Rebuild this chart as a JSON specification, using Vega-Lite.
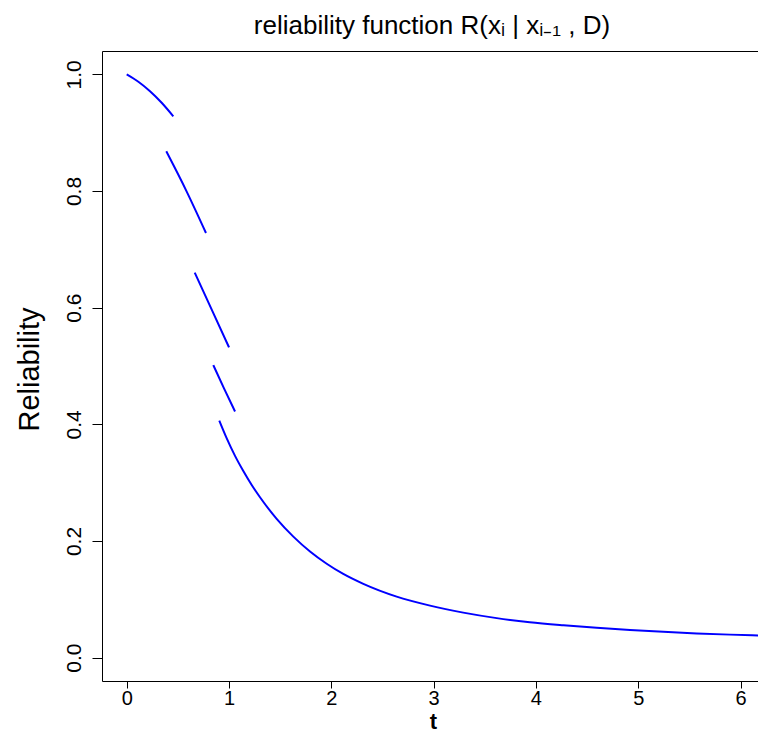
{
  "$schema": "https://vega.github.io/schema/vega-lite/v6.json",
  "autosize": {"type": "none"},
  "padding": {"left": 102, "top": 51, "right": 0, "bottom": 52},
  "width": 660,
  "height": 630,
  "background": "white",
  "title": {
    "text": "reliability function R(xᵢ | xᵢ₋₁ , D)",
    "font": "Liberation Sans",
    "fontSize": 26,
    "fontWeight": "normal",
    "color": "black",
    "anchor": "middle",
    "offset": 12
  },
  "config": {
    "view": {"stroke": "black", "strokeWidth": 1},
    "axis": {"grid": false, "domain": false, "tickColor": "black", "labelColor": "black", "titleColor": "black", "labelFont": "Liberation Sans", "titleFont": "Liberation Sans"}
  },
  "data": {
    "values": [
      {"seg": 1, "t": 0.0, "R": 1.0},
      {"seg": 1, "t": 0.114, "R": 0.9873},
      {"seg": 1, "t": 0.228, "R": 0.971},
      {"seg": 1, "t": 0.342, "R": 0.9512},
      {"seg": 1, "t": 0.4555, "R": 0.928},
      {"seg": 2, "t": 0.387, "R": 0.868},
      {"seg": 2, "t": 0.5865, "R": 0.799},
      {"seg": 2, "t": 0.775, "R": 0.728},
      {"seg": 3, "t": 0.665, "R": 0.66},
      {"seg": 3, "t": 0.83, "R": 0.597},
      {"seg": 3, "t": 1.0, "R": 0.532},
      {"seg": 4, "t": 0.8465, "R": 0.5015},
      {"seg": 4, "t": 0.95, "R": 0.462},
      {"seg": 4, "t": 1.059, "R": 0.422},
      {"seg": 5, "t": 0.905, "R": 0.4065},
      {"seg": 5, "t": 0.978, "R": 0.376},
      {"seg": 5, "t": 1.059, "R": 0.346},
      {"seg": 5, "t": 1.14, "R": 0.32},
      {"seg": 5, "t": 1.222, "R": 0.296},
      {"seg": 5, "t": 1.303, "R": 0.275},
      {"seg": 5, "t": 1.466, "R": 0.238},
      {"seg": 5, "t": 1.629, "R": 0.2075},
      {"seg": 5, "t": 1.792, "R": 0.182},
      {"seg": 5, "t": 1.955, "R": 0.161},
      {"seg": 5, "t": 2.117, "R": 0.1435},
      {"seg": 5, "t": 2.313, "R": 0.1265},
      {"seg": 5, "t": 2.639, "R": 0.1046},
      {"seg": 5, "t": 2.965, "R": 0.0892},
      {"seg": 5, "t": 3.29, "R": 0.0772},
      {"seg": 5, "t": 3.617, "R": 0.0678},
      {"seg": 5, "t": 3.94, "R": 0.0607},
      {"seg": 5, "t": 4.27, "R": 0.0555},
      {"seg": 5, "t": 4.594, "R": 0.0512},
      {"seg": 5, "t": 4.92, "R": 0.0475},
      {"seg": 5, "t": 5.245, "R": 0.0443},
      {"seg": 5, "t": 5.572, "R": 0.0416},
      {"seg": 5, "t": 5.897, "R": 0.0395},
      {"seg": 5, "t": 6.21, "R": 0.0378}
    ]
  },
  "mark": {"type": "line", "color": "#0000FF", "strokeWidth": 2, "clip": true, "interpolate": "monotone"},
  "encoding": {
    "x": {
      "field": "t", "type": "quantitative",
      "scale": {"domain": [-0.2414, 6.21], "nice": false, "zero": false},
      "axis": {
        "values": [0, 1, 2, 3, 4, 5, 6], "format": "d",
        "tickSize": 7, "labelPadding": 0, "labelFontSize": 20, "labelBaseline": "top",
        "title": "t", "titleFontSize": 22, "titleFontWeight": "bold",
        "titleX": 331, "titleY": 52, "titleAlign": "center", "titleBaseline": "bottom"
      }
    },
    "y": {
      "field": "R", "type": "quantitative",
      "scale": {"domain": [-0.04, 1.04], "nice": false, "zero": false},
      "axis": {
        "values": [0, 0.2, 0.4, 0.6, 0.8, 1.0], "format": ".1f",
        "tickSize": 10, "labelPadding": 12, "labelFontSize": 21,
        "labelAngle": 270, "labelAlign": "center", "labelBaseline": "alphabetic",
        "title": "Reliability", "titleFontSize": 29, "titleFontWeight": "normal",
        "titleAngle": 270, "titleX": -64, "titleY": 318, "titleAlign": "center", "titleBaseline": "alphabetic"
      }
    },
    "detail": {"field": "seg", "type": "nominal"}
  }
}
